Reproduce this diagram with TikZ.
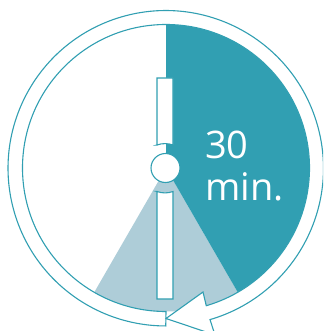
\documentclass[tikz,border=0pt]{standalone}
\usepackage{fontspec}
\setmainfont{Open Sans}
\definecolor{teal1}{HTML}{319FB2}
\definecolor{light1}{HTML}{AECDD8}
\tikzset{
  ringline/.style={draw=teal1,line width=1.1pt,fill=white,line join=miter},
  needle/.style={draw=teal1,line width=1.1pt,fill=white},
  bigtext/.style={text=white,font=\fontsize{38}{38}\selectfont,anchor=base west,inner sep=0pt}
}
\begin{document}
\begin{tikzpicture}[x=1pt,y=-1pt]
\useasboundingbox (0,0) rectangle (323,331);
\clip (0,0) rectangle (323,331);
\coordinate (c) at (166,168);
% light wedge
\fill[light1] (c) -- ++(60:143.5) arc[start angle=60,end angle=120,radius=143.5] -- cycle;
% dark wedge
\fill[teal1] (c) -- ++(-90:143.5) arc[start angle=-90,end angle=60,radius=143.5] -- cycle;
% ring arrow
\draw[ringline] (166,311.5) arc[start angle=90,end angle=433.7,radius=143.5]
  -- (203,292) -- (166,318.5) -- (215,335) -- (210,319.6)
  arc[start angle=433.7,end angle=90,radius=157.7] -- cycle;
% needles
\draw[needle] (157,145) -- (157,78) -- (173,78) -- (173,145)
  arc[start angle=-70,end angle=-110,radius=23.4] -- cycle;
\draw[needle] (157,191.5) -- (157,299) -- (173,299) -- (173,191.5)
  arc[start angle=70,end angle=110,radius=23.4] -- cycle;
% hub
\node[circle,draw=teal1,fill=white,line width=1.1pt,minimum size=29pt,inner sep=0pt] (hub) at (165.5,168) {};
\node[bigtext] (t1) at (205,158) {30};
\node[bigtext] (t2) at (205,200) {min.};
\end{tikzpicture}
\end{document}
